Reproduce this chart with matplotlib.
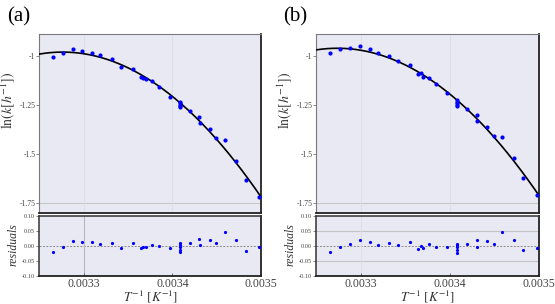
import matplotlib
matplotlib.use("Agg")
import matplotlib.pyplot as plt
import numpy as np

plt.rcParams["font.family"] = ["Liberation Serif", "DejaVu Serif"]
plt.rcParams["mathtext.fontset"] = "stix"

# 1/T values [K^-1], shared by both panels
inv_T = [0.003265, 0.003277, 0.003288, 0.0032986, 0.0033098, 0.0033188, 0.0033318,
         0.0033421, 0.0033555, 0.0033649, 0.0033673, 0.0033700, 0.0033769, 0.0033850,
         0.0033974, 0.0034087, 0.0034087, 0.0034087, 0.0034087, 0.0034087, 0.0034196,
         0.0034303, 0.0034313, 0.0034422, 0.0034495, 0.0034590, 0.0034720, 0.0034830,
         0.0034980]

# panel (a)
lnk_a = [-1.005, -0.985, -0.967, -0.977, -0.985, -0.998, -1.018, -1.056, -1.066, -1.107,
         -1.112, -1.121, -1.129, -1.159, -1.210, -1.235, -1.242, -1.249, -1.256, -1.263,
         -1.281, -1.315, -1.341, -1.375, -1.419, -1.431, -1.535, -1.636, -1.721]
res_a = [-0.020, -0.004, 0.016, 0.012, 0.013, 0.006, 0.010, -0.008, 0.009, -0.009,
         -0.006, -0.006, 0.003, -0.001, -0.008, 0.009, 0.002, -0.005, -0.013, -0.020,
         0.008, 0.021, 0.001, 0.018, 0.008, 0.046, 0.019, -0.017, -0.006]

# panel (b)
lnk_b = [-0.985, -0.967, -0.959, -0.950, -0.967, -0.988, -1.002, -1.029, -1.048, -1.094,
         -1.090, -1.107, -1.114, -1.146, -1.191, -1.227, -1.234, -1.241, -1.249, -1.257,
         -1.271, -1.302, -1.332, -1.365, -1.409, -1.417, -1.522, -1.622, -1.709]
res_b = [-0.021, -0.006, 0.006, 0.019, 0.013, 0.003, 0.010, 0.001, 0.012, -0.011,
         -0.002, -0.008, 0.005, -0.003, -0.005, 0.007, 0.001, -0.006, -0.014, -0.024,
         0.005, 0.020, -0.003, 0.016, 0.006, 0.046, 0.019, -0.016, -0.009]

panels = ["(a)", "(b)"]
main_yticks = [-1.75, -1.5, -1.25, -1]
main_ylabels = ["-1.75", "-1.5", "-1.25", "-1"]
res_yticks = [-0.10, -0.05, 0.00, 0.05, 0.10]
res_ylabels = ["-0.10", "-0.05", "0.00", "0.05", "0.10"]
xticks = [0.0033, 0.0034, 0.0035]
xlabels = ["0.0033", "0.0034", "0.0035"]

W, H = 555, 304
bg = "#e9e9f3"
fig = plt.figure(figsize=(W / 100, H / 100), dpi=100)


def frac(x0, y_top, x1, y_bot):
    return [x0 / W, 1 - y_bot / H, (x1 - x0) / W, (y_bot - y_top) / H]


def style(ax, res=False):
    ax.set_facecolor(bg)
    ax.set_xlim(0.00325, 0.0035)
    for s in ["top", "left"]:
        ax.spines[s].set_color("#333333" if res else "#7a7a7a")
        ax.spines[s].set_linewidth(1.1 if res else 0.8)
    for s in ["right", "bottom"]:
        ax.spines[s].set_color("#222222")
        ax.spines[s].set_linewidth(1.3)
    ax.tick_params(axis="y", direction="out", length=2, width=0.6, color="#777777",
                   pad=1, labelcolor="#444444")
    ax.tick_params(axis="x", direction="in", length=2, width=0.6, color="#555555",
                   pad=1.5, labelcolor="#444444")


lefts = [39.4, 316.4]
rights = [261.0, 538.5]
data = [(lnk_a, res_a), (lnk_b, res_b)]

for i in range(2):
    lnk, res = data[i]
    x = np.array(inv_T)
    ax = fig.add_axes(frac(lefts[i], 34, rights[i], 212.5))
    style(ax)
    ax.set_ylim(-1.80, -0.889)
    ax.axhline(-1.75, color="#c6c6c6", lw=0.8, zorder=1)
    for xv in xticks[:2]:
        ax.axvline(xv, color="#dcdce6", lw=0.6, zorder=1)

    # quadratic fit in 1/T
    u = (x - 0.0033) / 1e-4
    coef = np.polyfit(u, lnk, 2)
    xf = np.linspace(0.00325, 0.0035, 200)
    ax.plot(xf, np.polyval(coef, (xf - 0.0033) / 1e-4), color="black", lw=1.2, zorder=3)
    ax.plot(x, lnk, "o", color="#0000ff", ms=3.0, mec="none", zorder=4)

    ax.set_yticks(main_yticks)
    ax.set_yticklabels(main_ylabels, fontsize=5.5)
    ax.set_xticks(xticks)
    ax.set_xticklabels([])
    ax.tick_params(axis="x", length=0)

    rx = fig.add_axes(frac(lefts[i], 215.5, rights[i], 275.8))
    style(rx, res=True)
    rx.set_ylim(-0.10, 0.10)
    rx.axhline(0, color="#8a8a8a", lw=0.7, ls=(0, (2, 1.5)), zorder=1)
    if i == 0:
        rx.axvline(0.0033, color="#b8b8b8", lw=0.8, zorder=1)
    else:
        for yv in [-0.05, 0.05]:
            rx.axhline(yv, color="#c4c4c4", lw=0.8, zorder=1)
        rx.axvline(0.0033, color="#dcdce6", lw=0.6, zorder=1)
    rx.plot(x, res, "o", color="#0000ff", ms=2.3, mec="none", zorder=4)
    rx.set_yticks(res_yticks)
    rx.set_yticklabels(res_ylabels, fontsize=4.5)
    rx.set_xticks(xticks)
    rx.set_xticklabels(xlabels, fontsize=8.5)

    cx = (lefts[i] + rights[i]) / 2
    fig.text(cx / W, 1 - 297 / H, r"$T^{-1}\ [K^{-1}]$", ha="center", va="center",
             fontsize=9.5, color="#333333")
    fig.text((lefts[i] - 31.5) / W, 1 - 100 / H, r"$\mathrm{ln}(k[h^{-1}])$",
             rotation=90, ha="center", va="center", fontsize=10, color="#333333")
    fig.text((lefts[i] - 26) / W, 1 - 245 / H, "residuals", style="italic",
             rotation=90, ha="center", va="center", fontsize=8.5, color="#333333")
    fig.text((lefts[i] - 21) / W, 1 - 17 / H, panels[i], ha="center", va="center",
             fontsize=15, color="black")

fig.savefig("out.png", dpi=100, facecolor="white")
